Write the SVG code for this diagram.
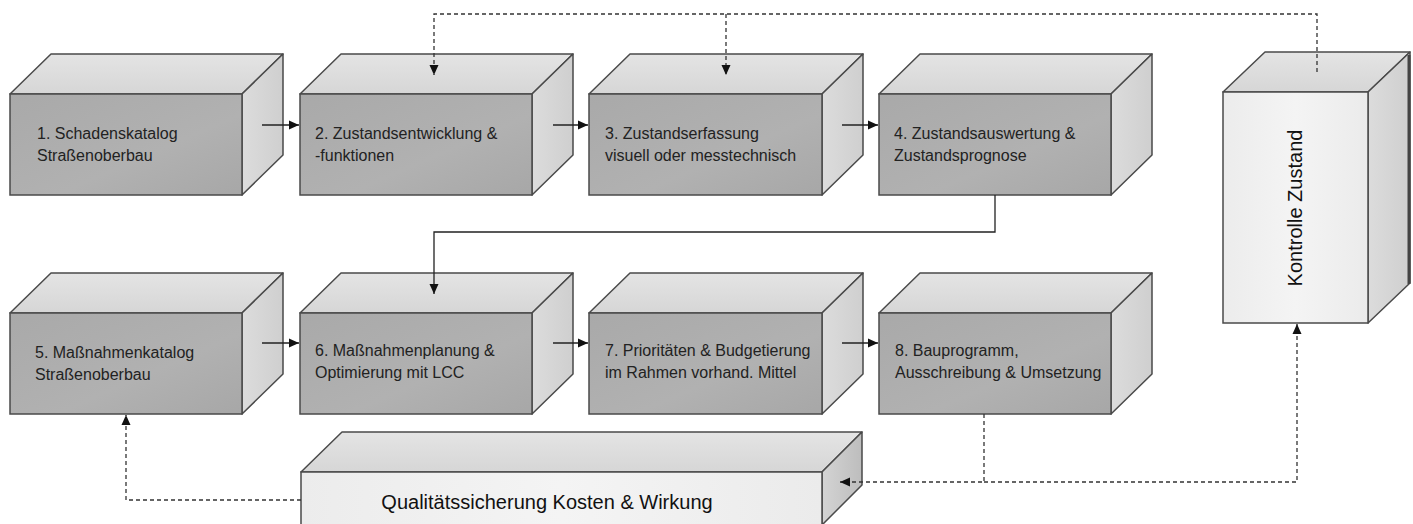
<svg xmlns="http://www.w3.org/2000/svg" width="1413" height="524" viewBox="0 0 1413 524">
<defs>
<linearGradient id="gFront" x1="0" y1="0" x2="1" y2="1">
<stop offset="0" stop-color="#a9a9a9"/><stop offset="0.6" stop-color="#b1b1b1"/><stop offset="1" stop-color="#a7a7a7"/>
</linearGradient>
<linearGradient id="gTop" x1="0" y1="0" x2="0" y2="1">
<stop offset="0" stop-color="#e4e4e4"/><stop offset="1" stop-color="#d6d6d6"/>
</linearGradient>
<linearGradient id="gSide" x1="0" y1="0" x2="1" y2="0">
<stop offset="0" stop-color="#dcdcdc"/><stop offset="1" stop-color="#cfcfcf"/>
</linearGradient>
<linearGradient id="gLight" x1="0" y1="0" x2="1" y2="0">
<stop offset="0" stop-color="#ececec"/><stop offset="0.5" stop-color="#f4f4f4"/><stop offset="1" stop-color="#ebebeb"/>
</linearGradient>
<linearGradient id="gSideDark" x1="0" y1="0" x2="1" y2="0">
<stop offset="0" stop-color="#d4d4d4"/><stop offset="1" stop-color="#bdbdbd"/>
</linearGradient>
<marker id="ah" markerUnits="userSpaceOnUse" markerWidth="12" markerHeight="12" viewBox="0 0 12 12" refX="11" refY="6" orient="auto">
<path d="M1,1.5 L11,6 L1,10.5 Z" fill="#111"/>
</marker>
</defs>
<style>
.f{fill:url(#gFront);stroke:#4a4a4a;stroke-width:1.5}
.t{fill:url(#gTop);stroke:#4a4a4a;stroke-width:1.5;stroke-linejoin:round}
.s{fill:url(#gSide);stroke:#4a4a4a;stroke-width:1.5;stroke-linejoin:round}
.fl{fill:url(#gLight);stroke:#4a4a4a;stroke-width:1.5}
.sd{fill:url(#gSideDark);stroke:#4a4a4a;stroke-width:1.5;stroke-linejoin:round}
.lbl{font-family:"Liberation Sans",Arial,sans-serif;font-size:16px;fill:#222}
.big{font-family:"Liberation Sans",Arial,sans-serif;font-size:20px;fill:#111}
.sol{fill:none;stroke:#222;stroke-width:1.3}
.dash{fill:none;stroke:#333;stroke-width:1.3;stroke-dasharray:4 3}
</style>
<rect width="1413" height="524" fill="#ffffff"/>

<g id="box1">
<polygon class="t" points="10,94 51,54 283,54 242,94"/>
<polygon class="s" points="242,94 283,54 283,155 242,195"/>
<rect class="f" x="10" y="94" width="232" height="101"/>
<text class="lbl" x="37" y="139">1. Schadenskatalog</text>
<text class="lbl" x="37" y="161">Straßenoberbau</text>
</g>
<g id="box2">
<polygon class="t" points="300,94 341,54 573,54 532,94"/>
<polygon class="s" points="532,94 573,54 573,155 532,195"/>
<rect class="f" x="300" y="94" width="232" height="101"/>
<text class="lbl" x="315" y="139">2. Zustandsentwicklung &amp;</text>
<text class="lbl" x="315" y="161">-funktionen</text>
</g>
<g id="box3">
<polygon class="t" points="589,94 630,54 863,54 822,94"/>
<polygon class="s" points="822,94 863,54 863,155 822,195"/>
<rect class="f" x="589" y="94" width="233" height="101"/>
<text class="lbl" x="605" y="139">3. Zustandserfassung</text>
<text class="lbl" x="605" y="161">visuell oder messtechnisch</text>
</g>
<g id="box4">
<polygon class="t" points="879,94 920,54 1152,54 1111,94"/>
<polygon class="s" points="1111,94 1152,54 1152,155 1111,195"/>
<rect class="f" x="879" y="94" width="232" height="101"/>
<text class="lbl" x="894" y="139">4. Zustandsauswertung &amp;</text>
<text class="lbl" x="894" y="161">Zustandsprognose</text>
</g>

<g id="box5">
<polygon class="t" points="10,313 51,273 283,273 242,313"/>
<polygon class="s" points="242,313 283,273 283,374 242,414"/>
<rect class="f" x="10" y="313" width="232" height="101"/>
<text class="lbl" x="35" y="358">5. Maßnahmenkatalog</text>
<text class="lbl" x="35" y="380">Straßenoberbau</text>
</g>
<g id="box6">
<polygon class="t" points="300,313 341,273 573,273 532,313"/>
<polygon class="s" points="532,313 573,273 573,374 532,414"/>
<rect class="f" x="300" y="313" width="232" height="101"/>
<text class="lbl" x="315" y="356">6. Maßnahmenplanung &amp;</text>
<text class="lbl" x="315" y="378">Optimierung mit LCC</text>
</g>
<g id="box7">
<polygon class="t" points="589,313 630,273 863,273 822,313"/>
<polygon class="s" points="822,313 863,273 863,374 822,414"/>
<rect class="f" x="589" y="313" width="233" height="101"/>
<text class="lbl" x="605" y="356">7. Prioritäten &amp; Budgetierung</text>
<text class="lbl" x="605" y="378">im Rahmen vorhand. Mittel</text>
</g>
<g id="box8">
<polygon class="t" points="879,313 920,273 1152,273 1111,313"/>
<polygon class="s" points="1111,313 1152,273 1152,374 1111,414"/>
<rect class="f" x="879" y="313" width="232" height="101"/>
<text class="lbl" x="895" y="356">8. Bauprogramm,</text>
<text class="lbl" x="895" y="378">Ausschreibung &amp; Umsetzung</text>
</g>

<g id="kontrolle">
<polygon class="t" points="1223,92 1265,52 1410,52 1368,92"/>
<polygon class="s" points="1368,92 1410,52 1410,283 1368,323"/>
<line x1="1409" y1="55" x2="1409" y2="284" stroke="#444" stroke-width="3"/>
<rect class="fl" x="1223" y="92" width="145" height="231"/>
<text class="big" transform="translate(1302,208) rotate(-90)" text-anchor="middle">Kontrolle Zustand</text>
</g>

<g id="qualitaet">
<polygon class="t" points="301,472 342,432 862,432 822,472"/>
<polygon class="sd" points="822,472 862,432 862,485 822,525"/>
<rect class="fl" x="301" y="472" width="521" height="60"/>
<text class="big" x="547" y="509" text-anchor="middle">Qualitätssicherung Kosten &amp; Wirkung</text>
</g>

<g id="connectors">
<path class="sol" d="M262,125 H299" marker-end="url(#ah)"/>
<path class="sol" d="M553,125 H588" marker-end="url(#ah)"/>
<path class="sol" d="M842,125 H878" marker-end="url(#ah)"/>
<path class="sol" d="M262,343 H299" marker-end="url(#ah)"/>
<path class="sol" d="M553,343 H588" marker-end="url(#ah)"/>
<path class="sol" d="M842,343 H878" marker-end="url(#ah)"/>
<path class="sol" d="M995,195 V232 H434 V294" marker-end="url(#ah)"/>
<path class="dash" d="M1317,72 V14 H434 V75" marker-end="url(#ah)"/>
<path class="dash" d="M726,14 V75" marker-end="url(#ah)"/>
<path class="dash" d="M984,414 V482 H840" marker-end="url(#ah)"/>
<path class="dash" d="M984,482 H1297 V324" marker-end="url(#ah)"/>
<path class="dash" d="M301,500 H126 V415" marker-end="url(#ah)"/>
</g>
</svg>
